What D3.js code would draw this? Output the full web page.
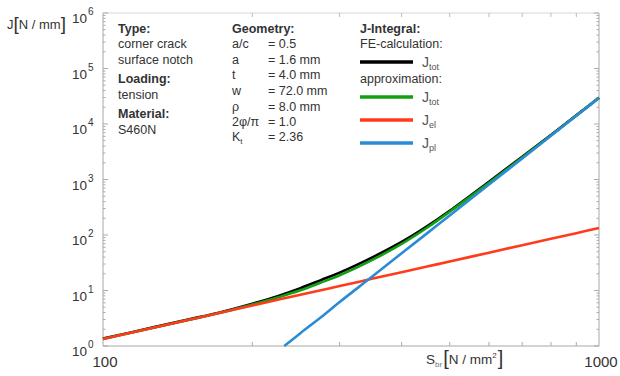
<!DOCTYPE html>
<html>
<head>
<meta charset="utf-8">
<script src="https://cdn.jsdelivr.net/npm/d3@7"></script>
<style>
  body { margin: 0; background: #fff; }
  svg { font-family: "Liberation Sans", Arial, sans-serif; }
</style>
</head>
<body>
<script>
const width = 620;
const height = 376;

// Werte (S_br in N/mm², J in N/mm)
const stress = [100, 125, 150, 175, 200, 225, 250, 275, 300, 350, 400, 450, 500, 600, 700, 800, 900, 1000];
const jFe = [1.36, 2.12, 3.05, 4.2, 5.8, 7.9, 11, 15.4, 21, 40, 75, 143, 272, 910, 2560, 6320, 14300, 29700];
const jApprox = [1.34, 2.09, 3.0, 4.1, 5.6, 7.5, 10.1, 13.9, 18.8, 36, 69, 135, 262, 870, 2480, 6230, 14200, 29600];
const jEl = [1.34, 2.09, 3.0, 4.1, 5.35, 6.8, 8.4, 10.1, 12.0, 16.4, 21.4, 27.0, 33.4, 48, 65.5, 85.5, 108, 134];
const stressPl = [232, 250, 275, 300, 350, 400, 450, 500, 600, 700, 800, 900, 1000];
const jPl = [1, 1.7, 3.3, 6.2, 18.2, 46.8, 107, 225, 811, 2400, 6140, 14100, 29500];

const xTicks = [100, 1000];
const yTicks = [1, 10, 100, 1000, 10000, 100000, 1000000];

const svg = d3
  .select("body")
  .append("svg")
  .attr("width", width)
  .attr("height", height);

const x = d3.scaleLog().domain([100, 1000]).range([103, 599]);
const y = d3.scaleLog().domain([1, 1e6]).range([346, 13]);

const textColor = "#333";

// Rahmen
svg
  .append("line")
  .attr("x1", x(100))
  .attr("x2", x(1000))
  .attr("y1", y(1e6))
  .attr("y2", y(1e6))
  .attr("stroke", "#d8d8cc");
svg
  .append("path")
  .attr("d", `M${x(100)},${y(1e6)}V${y(1)}H${x(1000)}V${y(1e6)}`)
  .attr("fill", "none")
  .attr("stroke", "#a8a8a8")
  .attr("stroke-width", 1);

// kleine Striche x
const xMinor = d3.range(200, 1000, 100);
svg
  .selectAll(".xtick-b")
  .data(xMinor)
  .enter()
  .append("line")
  .attr("x1", (d) => x(d))
  .attr("x2", (d) => x(d))
  .attr("y1", y(1))
  .attr("y2", y(1) - 4)
  .attr("stroke", "#aaa");
svg
  .selectAll(".xtick-t")
  .data(xMinor)
  .enter()
  .append("line")
  .attr("x1", (d) => x(d))
  .attr("x2", (d) => x(d))
  .attr("y1", y(1e6))
  .attr("y2", y(1e6) + 4)
  .attr("stroke", "#bbb");

// kleine Striche y
const yAll = [];
for (let e = 0; e < 6; e++) {
  for (let m = 1; m < 10; m++) yAll.push(m * Math.pow(10, e));
}
yAll.push(1e6);
[x(100), x(1000)].forEach((x0, i) => {
  const dir = i === 0 ? 1 : -1;
  svg
    .append("g")
    .selectAll("line")
    .data(yAll)
    .enter()
    .append("line")
    .attr("x1", x0)
    .attr("x2", (d) => x0 + dir * (Number.isInteger(Math.log10(d)) ? 5 : 2.5))
    .attr("y1", (d) => y(d))
    .attr("y2", (d) => y(d))
    .attr("stroke", "#aaa");
});

// y-Beschriftung
const yLab = svg
  .selectAll(".ylab")
  .data(yTicks)
  .enter()
  .append("text")
  .attr("x", 72)
  .attr("y", (d) => y(d) + 10)
  .attr("fill", textColor)
  .style("font-size", "13.5px");
yLab.append("tspan").text("10");
yLab
  .append("tspan")
  .attr("dx", 1)
  .attr("dy", -8)
  .style("font-size", "10px")
  .text((d) => Math.round(Math.log10(d)));

// x-Beschriftung
svg
  .selectAll(".xlab")
  .data(xTicks)
  .enter()
  .append("text")
  .attr("x", (d) => x(d) + 2)
  .attr("y", 367)
  .attr("text-anchor", "middle")
  .attr("fill", textColor)
  .style("font-size", "15px")
  .text((d) => d);

// Achsentitel
const yTitle = svg
  .append("text")
  .attr("x", 7)
  .attr("y", 29)
  .attr("fill", textColor)
  .style("font-size", "13px");
yTitle.append("tspan").text("J");
yTitle.append("tspan").style("font-size", "19px").attr("dy", 1).text("[");
yTitle.append("tspan").attr("dy", -1).text("N / mm");
yTitle.append("tspan").style("font-size", "19px").attr("dy", 1).text("]");

const xTitle = svg
  .append("text")
  .attr("x", 426)
  .attr("y", 364)
  .attr("fill", textColor)
  .style("font-size", "13.5px");
xTitle.append("tspan").text("S");
xTitle.append("tspan").attr("dy", 3).style("font-size", "8px").attr("fill", "#777").text("br");
xTitle.append("tspan").attr("dx", 1).attr("dy", -2).style("font-size", "20px").text("[");
xTitle.append("tspan").attr("dy", -1).text("N / mm");
xTitle.append("tspan").attr("dy", -6).style("font-size", "8px").text("2");
xTitle.append("tspan").attr("dx", 1).attr("dy", 7).style("font-size", "20px").text("]");

// Kurven
const linie = d3
  .line()
  .x((d) => x(d[0]))
  .y((d) => y(d[1]))
  .curve(d3.curveCatmullRom.alpha(0.5));

const kurven = [
  { s: stress, j: jFe, farbe: "#000000" },
  { s: stress, j: jApprox, farbe: "#12a012" },
  { s: stress, j: jEl, farbe: "#ff3b1c" },
  { s: stressPl, j: jPl, farbe: "#2a8bd6" },
];

kurven.forEach((k) => {
  svg
    .append("path")
    .attr("d", linie(k.s.map((s, i) => [s, k.j[i]])))
    .attr("fill", "none")
    .attr("stroke", k.farbe)
    .attr("stroke-width", 2.6);
});

// Textblock
const block = (x0, zeilen) => {
  zeilen.forEach((z) => {
    const t = svg
      .append("text")
      .attr("x", x0)
      .attr("y", z[1])
      .attr("fill", textColor)
      .style("font-size", "12.5px")
      .style("font-weight", z[2] ? "bold" : "normal");
    t.append("tspan").text(z[0]);
    if (z[3]) {
      t.append("tspan").attr("dy", 3).style("font-size", "8px").text(z[3]);
    }
  });
};

block(118, [
  ["Type:", 33, true],
  ["corner crack", 48],
  ["surface notch", 64],
  ["Loading:", 83, true],
  ["tension", 99],
  ["Material:", 118, true],
  ["S460N", 134],
]);

block(232, [
  ["Geometry:", 33, true],
  ["a/c", 48],
  ["a", 64],
  ["t", 79],
  ["w", 95],
  ["ρ", 111],
  ["2φ/π", 126],
  ["K", 141, false, "t"],
]);

block(268, [
  ["= 0.5", 48],
  ["= 1.6 mm", 64],
  ["= 4.0 mm", 79],
  ["= 72.0 mm", 95],
  ["= 8.0 mm", 111],
  ["= 1.0", 126],
  ["= 2.36", 141],
]);

block(360, [
  ["J-Integral:", 33, true],
  ["FE-calculation:", 48],
  ["approximation:", 83],
]);

// Legende
const legende = [
  { farbe: "#000000", sub: "tot", y: 62 },
  { farbe: "#12a012", sub: "tot", y: 97 },
  { farbe: "#ff3b1c", sub: "el", y: 120 },
  { farbe: "#2a8bd6", sub: "pl", y: 143 },
];

legende.forEach((l) => {
  svg
    .append("line")
    .attr("x1", 360)
    .attr("x2", 413)
    .attr("y1", l.y)
    .attr("y2", l.y)
    .attr("stroke", l.farbe)
    .attr("stroke-width", 3.5);
  const t = svg
    .append("text")
    .attr("x", 422)
    .attr("y", l.y + 5)
    .attr("fill", "#555")
    .style("font-size", "14px");
  t.append("tspan").text("J");
  t.append("tspan").attr("dy", 3).style("font-size", "9px").text(l.sub);
});
</script>
</body>
</html>
